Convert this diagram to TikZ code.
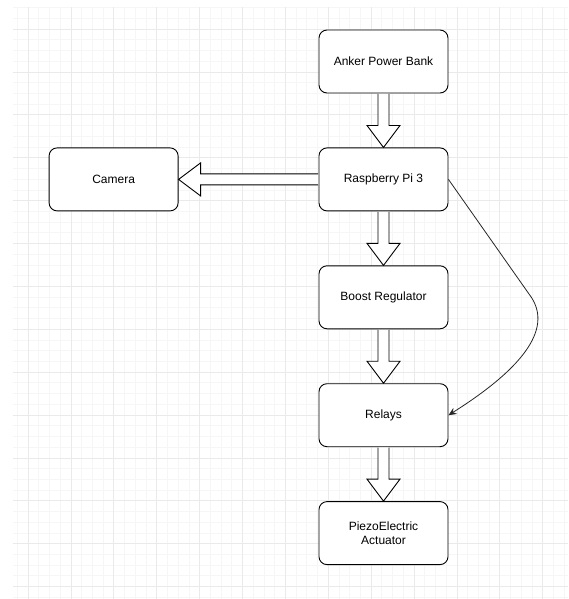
\documentclass[tikz,border=0pt]{standalone}
\usepackage{fontspec}
\setmainfont{Liberation Sans}
\usetikzlibrary{positioning,calc,arrows.meta}

\definecolor{gridminor}{HTML}{F6F6F6}
\definecolor{gridmajor}{HTML}{EAEAEA}

% hollow block arrows between boxes
\newcommand{\fatdown}[2]{%
  \draw[fat] ($(#1.south)+(-5.5pt,-0.5pt)$) -- ($(#2.north)+(-5.5pt,22pt)$) -- ++(-11pt,0)
    -- (#2.north) -- ++(16.5pt,22pt) -- ++(-11pt,0) -- ($(#1.south)+(5.5pt,-0.5pt)$);}
\newcommand{\fatleft}[2]{%
  \draw[fat] ($(#1.west)+(-0.5pt,5.5pt)$) -- ($(#2.east)+(22pt,5.5pt)$) -- ++(0,11pt)
    -- (#2.east) -- ++(22pt,-16.5pt) -- ++(0,11pt) -- ($(#1.west)+(-0.5pt,-5.5pt)$);}

\begin{document}
\begin{tikzpicture}[
      node distance = 54pt and 140pt,
      box/.style = {draw,rectangle,rounded corners=8pt,line width=0.9pt,fill=white,
        minimum width=129pt,minimum height=63pt,align=center,font=\fontsize{12}{14}\selectfont},
      fat/.style = {draw,fill=white,line width=0.9pt,line join=miter},
      link/.style = {-{Stealth[length=8pt,width=7pt]},line width=0.8pt,black!85}
    ]
      \useasboundingbox (0,0) rectangle (568pt,-599pt);
      % background grid
      \begin{scope}[shift={(28pt,-29pt)}]
        \draw[gridminor,line width=0.6pt,step=10.72pt] (-15pt,22pt) grid (540pt,-570pt);
        \draw[gridmajor,line width=0.6pt,step=42.88pt] (-15pt,22pt) grid (540pt,-570pt);
      \end{scope}

      \node (anker)[box] at (383.5pt,-61.5pt) {Anker Power Bank};
      \node (rasp)[box,below = of anker] {Raspberry Pi 3};
      \node (camera)[box,left = of rasp] {Camera};
      \node (boost)[box,below = of rasp] {Boost Regulator};
      \node (relays)[box,below = of boost] {Relays};
      \node (piezo)[box,below = of relays] {PiezoElectric\\Actuator};

      \fatdown{anker}{rasp}
      \fatleft{rasp}{camera}
      \fatdown{rasp}{boost}
      \fatdown{boost}{relays}
      \fatdown{relays}{piezo}

      \coordinate (turn) at (529pt,-294pt);
      \draw[link] (rasp.east) -- (turn) .. controls (553.7pt,-326pt) and (526.7pt,-365.8pt) .. (relays.east);
    \end{tikzpicture}
\end{document}
